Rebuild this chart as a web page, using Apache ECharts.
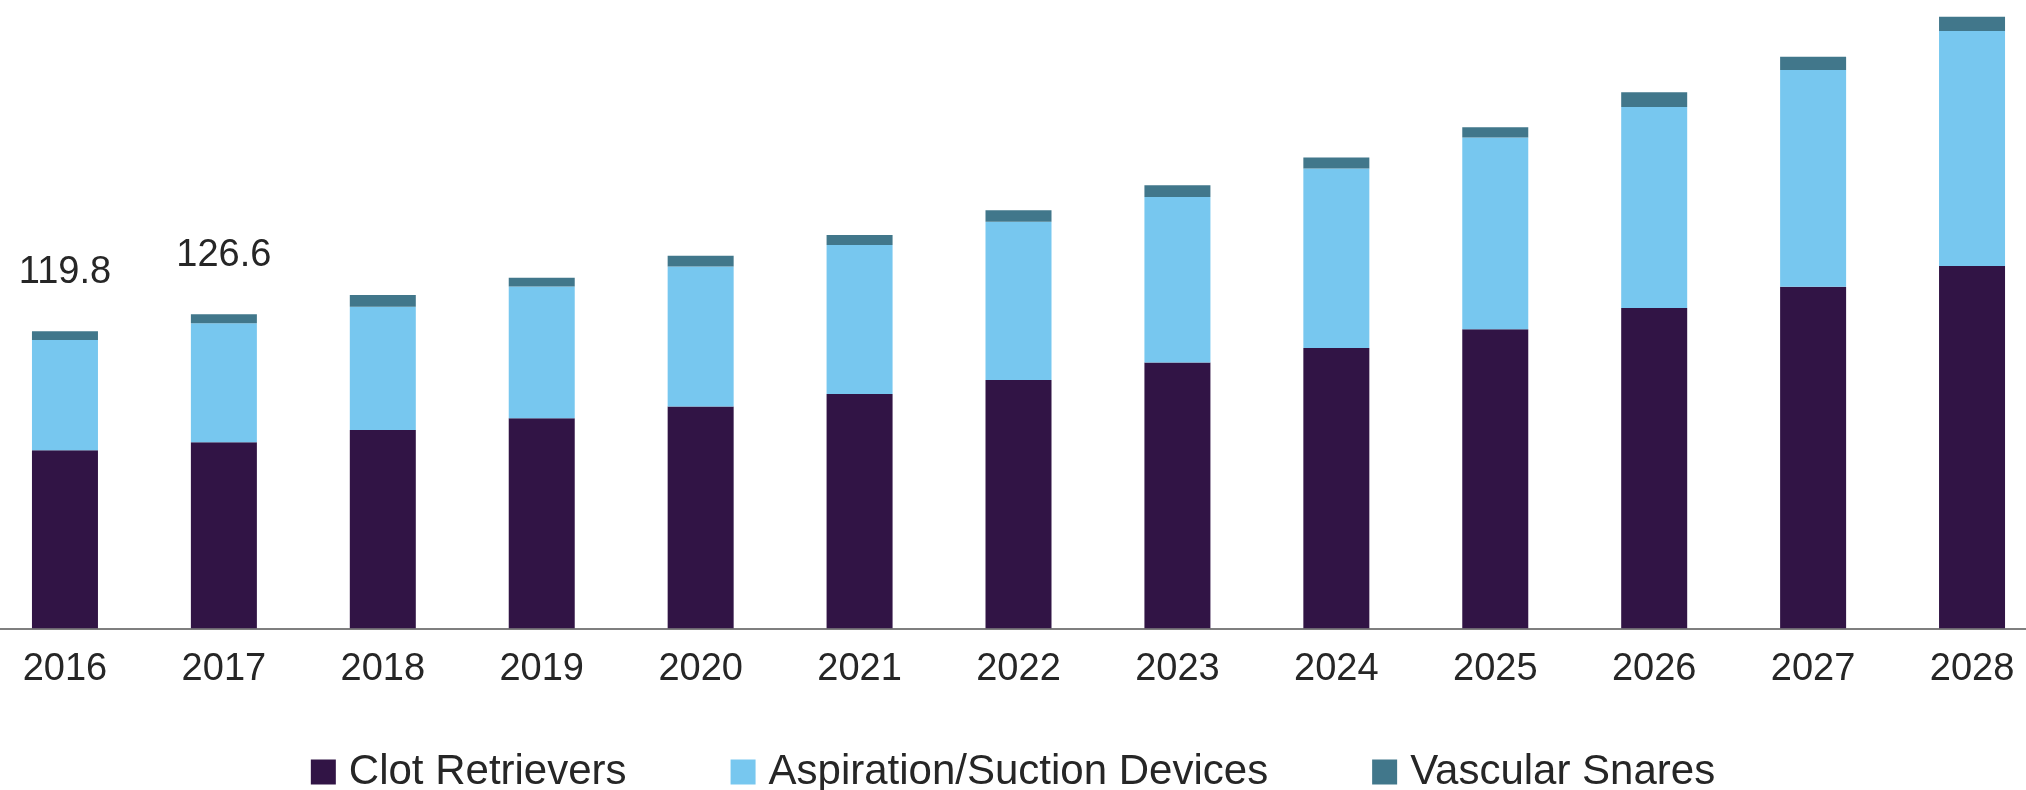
<!DOCTYPE html>
<html>
<head>
<meta charset="utf-8">
<script src="https://cdn.jsdelivr.net/npm/echarts@6/dist/echarts.min.js"></script>
<style>
html,body{margin:0;padding:0;background:#fff;}
#chart{width:2026px;height:790px;}
</style>
</head>
<body>
<div id="chart"></div>
<script>
const categories = ['2016','2017','2018','2019','2020','2021','2022','2023','2024','2025','2026','2027','2028'];
const clotRetrievers = [71.8, 75.0, 80.0, 84.7, 89.4, 94.5, 100.1, 107.2, 113.0, 120.6, 129.2, 137.7, 146.1];
const aspirationDevices = [44.4, 48.0, 49.7, 53.1, 56.5, 60.1, 63.8, 66.7, 72.4, 77.3, 81.0, 87.4, 94.7];
const vascularSnares = [3.6, 3.6, 4.7, 3.6, 4.3, 4.0, 4.7, 4.7, 4.4, 4.1, 5.9, 5.4, 5.8];
const totalLabels = ['119.8', '126.6', '', '', '', '', '', '', '', '', '', '', ''];

const chart = echarts.init(document.getElementById('chart'));
const font = 'Liberation Sans, Arial, sans-serif';

const snareData = vascularSnares.map((v, i) => ({
  value: v,
  label: { show: totalLabels[i] !== '' }
}));

chart.setOption({
  animation: false,
  backgroundColor: '#ffffff',
  grid: {
    left: -14.5, right: -25.5, top: 8.3, bottom: 161.7,
    containLabel: false,
    outerBoundsMode: 'none'
  },
  legend: {
    top: 746,
    left: 'center',
    itemWidth: 25,
    itemHeight: 25,
    itemGap: 104,
    icon: 'rect',
    textStyle: { fontFamily: font, fontSize: 42, color: '#262626', padding: [0, 0, 0, 8] },
    data: ['Clot Retrievers', 'Aspiration/Suction Devices', 'Vascular Snares']
  },
  xAxis: {
    type: 'category',
    data: categories,
    boundaryGap: true,
    offset: 4,
    axisLine: { show: true, lineStyle: { color: '#7f7f7f', width: 2 } },
    axisTick: { show: false },
    axisLabel: { fontFamily: font, fontSize: 38, color: '#262626', margin: 18 }
  },
  yAxis: {
    type: 'value',
    min: 0,
    max: 250,
    show: false,
    splitLine: { show: false }
  },
  series: [
    {
      name: 'Clot Retrievers',
      type: 'bar',
      stack: 'total',
      barWidth: 66,
      itemStyle: { color: '#311445' },
      data: clotRetrievers
    },
    {
      name: 'Aspiration/Suction Devices',
      type: 'bar',
      stack: 'total',
      barWidth: 66,
      itemStyle: { color: '#77C7EF' },
      data: aspirationDevices
    },
    {
      name: 'Vascular Snares',
      type: 'bar',
      stack: 'total',
      barWidth: 66,
      itemStyle: { color: '#41778B' },
      label: {
        show: false,
        position: 'top',
        distance: 40,
        fontFamily: font,
        fontSize: 38,
        color: '#262626',
        formatter: p => totalLabels[p.dataIndex]
      },
      data: snareData
    }
  ]
});
</script>
</body>
</html>
